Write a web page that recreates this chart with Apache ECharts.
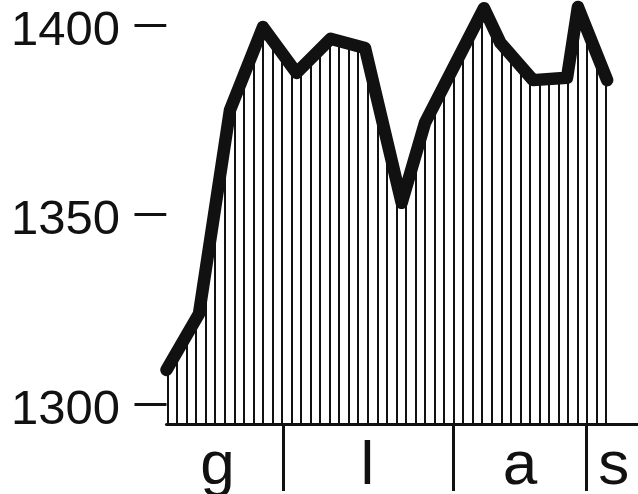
<!DOCTYPE html>
<html>
<head>
<meta charset="utf-8">
<script src="https://cdn.jsdelivr.net/npm/echarts@6/dist/echarts.min.js"></script>
<style>
html,body{margin:0;padding:0;background:#fff;}
#chart{width:638px;height:494px;}
</style>
</head>
<body>
<div id="chart"></div>
<script>
// x positions in "day" units (0 = first hatch line)
const pointX = [0, 3.39, 6.63, 10.07, 13.57, 17.12, 20.72, 24.55, 26.98, 33.14, 34.86, 38.26, 41.81, 42.95, 46];
const pointY = [1309.0, 1323.8, 1377.6, 1399.5, 1387.4, 1396.4, 1394.0, 1353.1, 1374.2, 1404.5, 1395.3, 1385.5, 1386.1, 1404.8, 1385.5];

const yTicks = [1300, 1350, 1400];
const monthLabels = ['g', 'l', 'a', 's'];
const monthLabelPos = [5.32, 20.98, 36.9, 46.7];
const monthBounds = [12.19, 29.94, 43.86];
const hatchCount = 46; // intervals between hatch lines

const data = pointX.map((x, i) => [x, pointY[i]]);
const FONT = '"Liberation Sans", Arial, Helvetica, sans-serif';
const INK = '#111';

const chart = echarts.init(document.getElementById('chart'));
chart.setOption({
  animation: false,
  backgroundColor: '#fff',
  grid: [
    { left: 166.5, right: 0, top: 0, bottom: 70, containLabel: false, outerBoundsMode: 'none' },
    { left: 167.5, width: 438.7, top: 0, bottom: 70, containLabel: false, outerBoundsMode: 'none' }
  ],
  xAxis: [
    {
      gridIndex: 0, type: 'value', min: 0, max: 49.22,
      axisLine: { show: true, lineStyle: { color: INK, width: 3 } },
      axisTick: { show: true, customValues: monthBounds, length: 67, lineStyle: { color: INK, width: 3 } },
      axisLabel: {
        show: true, customValues: monthLabelPos, margin: 12,
        fontFamily: FONT, fontSize: 62, color: INK,
        formatter: function (v) {
          const i = monthLabelPos.findIndex(p => Math.abs(p - v) < 1e-6);
          return i >= 0 ? monthLabels[i] : '';
        }
      },
      splitLine: { show: false }
    },
    {
      gridIndex: 1, type: 'value', min: 0, max: hatchCount, interval: 1,
      axisLine: { show: false }, axisTick: { show: false }, axisLabel: { show: false },
      splitLine: { show: true, showMinLine: true, showMaxLine: true, lineStyle: { color: INK, width: 2 } }
    }
  ],
  yAxis: [
    {
      gridIndex: 0, type: 'value', min: 1294.72, max: 1406.65,
      axisLine: { show: false },
      axisTick: { show: true, customValues: yTicks, length: 32, lineStyle: { color: INK, width: 3 } },
      axisLabel: {
        show: true, customValues: yTicks, margin: 46.5,
        fontFamily: FONT, fontSize: 49, color: INK,
        verticalAlign: 'top', lineHeight: 12,
        formatter: function (v) { return String(Math.round(v)); }
      },
      splitLine: { show: false }
    },
    {
      gridIndex: 1, type: 'value', min: 1294.72, max: 1406.65,
      axisLine: { show: false }, axisTick: { show: false }, axisLabel: { show: false },
      splitLine: { show: false }
    }
  ],
  series: [
    {
      type: 'line',
      xAxisIndex: 0, yAxisIndex: 0,
      data: data,
      symbol: 'none',
      clip: false,
      z: 5,
      lineStyle: { color: INK, width: 12.5, join: 'round', cap: 'round' },
      areaStyle: { color: '#fff', opacity: 1, origin: 'end' }
    }
  ]
});
</script>
</body>
</html>
